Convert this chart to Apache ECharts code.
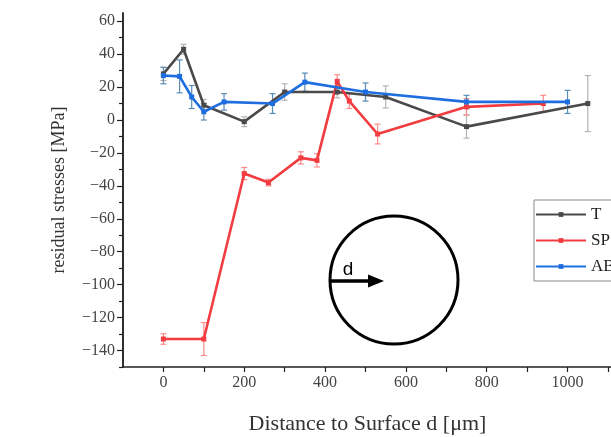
<!DOCTYPE html>
<html>
<head>
<meta charset="utf-8">
<script src="https://cdn.jsdelivr.net/npm/echarts@6/dist/echarts.min.js"></script>
<style>html,body{margin:0;padding:0;background:#fff;}#c{width:611px;height:437px;}</style>
</head>
<body>
<div id="c"></div>
<script>
// Series T
const tX = [0, 50, 100, 200, 300, 430, 550, 750, 1050];
const tY = [28, 43, 9, -1, 17, 17, 14, -4, 10];
const tErr = [4, 3, 3.5, 3, 5, 3.5, 6.7, 7, 17];
// Series SP
const spX = [0, 100, 200, 260, 340, 380, 430, 460, 530, 750, 940];
const spY = [-133, -133, -32.5, -38, -23, -24.5, 23.5, 11.5, -8.5, 8, 10];
const spErr = [3.2, 10, 3.7, 2, 3.7, 4, 4, 4.5, 6, 5, 5];
// Series AB
const abX = [0, 40, 70, 100, 150, 270, 350, 500, 750, 1000];
const abY = [27, 26.5, 14, 5, 11, 10, 23, 17, 11, 11];
const abErr = [5, 10, 7, 5, 5, 6, 5.5, 5.5, 4, 7];

const yLabels = [-140, -120, -100, -80, -60, -40, -20, 0, 20, 40, 60];
const yMinor = [-150, -130, -110, -90, -70, -50, -30, -10, 10, 30, 50];
const xLabels = [0, 200, 400, 600, 800, 1000];
const xTicks = [0, 100, 200, 300, 400, 500, 600, 700, 800, 900, 1000, 1100];

const serif = '"Liberation Serif", "DejaVu Serif", serif';

function zip3(a, b, c) { return a.map((v, i) => [v, b[i], c[i]]); }
function zip2(a, b) { return a.map((v, i) => [v, b[i]]); }

function errRender(color) {
  return function (params, api) {
    const x = api.value(0), y = api.value(1), e = api.value(2);
    const top = api.coord([x, y + e]);
    const bot = api.coord([x, y - e]);
    const w = 3;
    const st = { stroke: color, lineWidth: 1.2 };
    return {
      type: 'group',
      children: [
        { type: 'line', shape: { x1: top[0], y1: top[1], x2: bot[0], y2: bot[1] }, style: st },
        { type: 'line', shape: { x1: top[0] - w, y1: top[1], x2: top[0] + w, y2: top[1] }, style: st },
        { type: 'line', shape: { x1: bot[0] - w, y1: bot[1], x2: bot[0] + w, y2: bot[1] }, style: st }
      ]
    };
  };
}

const cT = '#4a4a4a', cSP = '#f23c40', cAB = '#1f6ee0';

const axisLineStyle = { show: true, onZero: false, lineStyle: { color: '#222', width: 1.5 } };

const chart = echarts.init(document.getElementById('c'), null, { renderer: 'canvas' });
chart.setOption({
  animation: false,
  backgroundColor: '#fff',
  grid: { left: 123, top: 13, width: 489, height: 354, containLabel: false, outerBoundsMode: 'none' },
  xAxis: [{
    type: 'value', min: -100, max: 1110,
    axisLine: axisLineStyle, splitLine: { show: false },
    axisTick: { show: true, inside: false, length: 5, customValues: xTicks, lineStyle: { color: '#222', width: 1.2 } },
    axisLabel: { customValues: xLabels, color: '#444', fontFamily: serif, fontSize: 16, margin: 8,
      formatter: v => String(v) },
    name: 'Distance to Surface d [μm]', nameLocation: 'middle', nameGap: 46,
    nameTextStyle: { fontFamily: serif, fontSize: 22, color: '#333' }
  }],
  yAxis: [{
    type: 'value', min: -150, max: 65,
    axisLine: axisLineStyle, splitLine: { show: false },
    axisTick: { show: true, length: 6, customValues: yLabels, lineStyle: { color: '#222', width: 1.2 } },
    axisLabel: { customValues: yLabels, color: '#444', fontFamily: serif, fontSize: 16, margin: 8,
      formatter: v => (v < 0 ? '\u2212' + Math.abs(v) : String(v)) },
    name: 'residual stresses [MPa]', nameLocation: 'middle', nameGap: 55, nameRotate: 90,
    nameTextStyle: { fontFamily: serif, fontSize: 18, color: '#333' }
  }, {
    type: 'value', min: -150, max: 65, position: 'left', offset: 0,
    axisLine: axisLineStyle, splitLine: { show: false },
    axisTick: { show: true, length: 4, customValues: yMinor, lineStyle: { color: '#222', width: 1.2 } },
    axisLabel: { show: false }
  }],
  legend: {
    orient: 'vertical', left: 534, top: 200,
    padding: [6, 40, 6, 1], itemGap: 9, itemWidth: 50, itemHeight: 6,
    borderColor: '#888', borderWidth: 1,
    textStyle: { fontFamily: serif, fontSize: 17, color: '#222' },
    data: ['T', 'SP', 'AB']
  },
  series: [
    { type: 'custom', name: 'errT', renderItem: errRender('#b4b4b4'), data: zip3(tX, tY, tErr), z: 1, silent: true },
    { type: 'custom', name: 'errSP', renderItem: errRender('#ff8a8a'), data: zip3(spX, spY, spErr), z: 1, silent: true },
    { type: 'custom', name: 'errAB', renderItem: errRender('#5a8db5'), data: zip3(abX, abY, abErr), z: 1, silent: true },
    { type: 'line', name: 'T', data: zip2(tX, tY), symbol: 'rect', symbolSize: 5, z: 3,
      lineStyle: { color: cT, width: 2.6 }, itemStyle: { color: cT } },
    { type: 'line', name: 'SP', data: zip2(spX, spY), symbol: 'rect', symbolSize: 5, z: 3,
      lineStyle: { color: cSP, width: 2.6 }, itemStyle: { color: cSP } },
    { type: 'line', name: 'AB', data: zip2(abX, abY), symbol: 'rect', symbolSize: 5, z: 4,
      lineStyle: { color: cAB, width: 2.6 }, itemStyle: { color: cAB } }
  ],
  graphic: [
    { type: 'circle', shape: { cx: 394, cy: 280, r: 64 }, style: { fill: 'none', stroke: '#000', lineWidth: 3 }, z: 10 },
    { type: 'line', shape: { x1: 330, y1: 281, x2: 372, y2: 281 }, style: { stroke: '#000', lineWidth: 3.5 }, z: 10 },
    { type: 'polygon', shape: { points: [[368, 274.5], [384, 281], [368, 287.5]] }, style: { fill: '#000' }, z: 10 },
    { type: 'text', x: 348, y: 270, style: { text: 'd', font: '19px "Liberation Sans", Arial, sans-serif', fill: '#000', align: 'center', verticalAlign: 'middle' }, z: 10 }
  ]
});
</script>
</body>
</html>
